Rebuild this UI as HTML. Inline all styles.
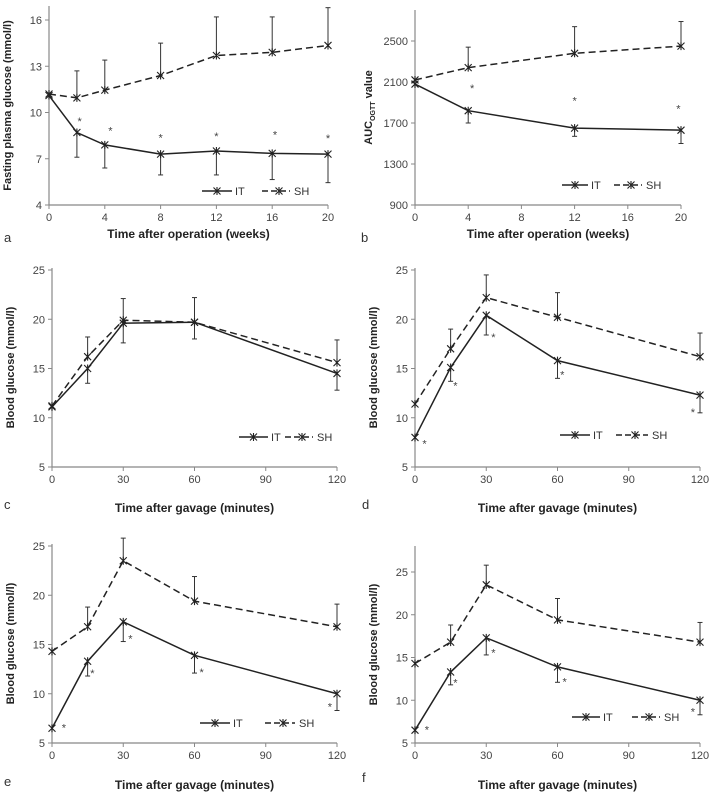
<!DOCTYPE html>
<html><head><meta charset="utf-8"><style>
body{margin:0;background:#fff}
svg{display:block;font-family:"Liberation Sans","DejaVu Sans",sans-serif}
</style></head><body>
<svg id="s" width="712" height="794" viewBox="0 0 712 794" xmlns="http://www.w3.org/2000/svg"></svg>
<script>
const NS="http://www.w3.org/2000/svg";const S=document.getElementById('s');
function el(t,a,txt){const e=document.createElementNS(NS,t);for(const k in a)e.setAttribute(k,a[k]);if(txt!==undefined)e.textContent=txt;S.appendChild(e);return e;}
function marker(x,y){const r=3.5;el('path',{d:`M${x-r} ${y-r}L${x+r} ${y+r}M${x-r} ${y+r}L${x+r} ${y-r}M${x} ${y-r-0.5}L${x} ${y+r+0.5}`,stroke:'#222','stroke-width':1.1,fill:'none'});}
function panel(p){
 const X=v=>p.x0+(v-p.xmin)/(p.xmax-p.xmin)*(p.x1-p.x0);
 const Y=v=>p.yb+(v-p.ymin)/(p.yt-p.ymin)*(p.ytp-p.yb);
 el('line',{x1:p.x0,y1:p.top,x2:p.x0,y2:p.yb,stroke:'#888','stroke-width':1.2});
 el('line',{x1:p.x0,y1:p.yb,x2:p.x1,y2:p.yb,stroke:'#888','stroke-width':1.2});
 p.yt_.forEach(v=>{const y=Y(v);el('line',{x1:p.x0-4,y1:y,x2:p.x0,y2:y,stroke:'#888'});el('text',{x:p.x0-7,y:y+4,'text-anchor':'end','font-size':11,fill:'#444'},v);});
 p.xt.forEach(v=>{const x=X(v);el('line',{x1:x,y1:p.yb,x2:x,y2:p.yb+4,stroke:'#888'});el('text',{x:x,y:p.yb+16,'text-anchor':'middle','font-size':11,fill:'#444'},v);});
 el('text',{x:(p.x0+p.x1)/2,y:p.ty,'text-anchor':'middle','font-size':12,'font-weight':'bold',fill:'#222'},p.title);
 el('text',{x:p.lx,y:p.ly,'font-size':13,fill:'#333'},p.letter);
 const yc=(p.top+p.yb)/2;const yl=el('text',{x:0,y:0,'text-anchor':'middle','font-size':11,'font-weight':'bold',fill:'#222',transform:`translate(${p.yx},${yc}) rotate(-90)`},p.ylab);
 if(p.sub){yl.textContent='';const a=document.createElementNS(NS,'tspan');a.textContent='AUC';yl.appendChild(a);const b=document.createElementNS(NS,'tspan');b.setAttribute('font-size',7);b.setAttribute('dy',3);b.textContent='OGTT';yl.appendChild(b);const c=document.createElementNS(NS,'tspan');c.setAttribute('dy',-3);c.textContent=' value';yl.appendChild(c);}
 p.ed.forEach(([xv,v,e])=>{if(e==null)return;const x=X(xv);el('line',{x1:x,y1:Y(v),x2:x,y2:Y(e),stroke:'#333','stroke-width':1});el('line',{x1:x-2.5,y1:Y(e),x2:x+2.5,y2:Y(e),stroke:'#333','stroke-width':1});});
 const line=(d,dash)=>{el('polyline',{points:d.map(q=>X(q[0])+','+Y(q[1])).join(' '),fill:'none',stroke:'#222','stroke-width':1.5,'stroke-dasharray':dash||''});d.forEach(q=>marker(X(q[0]),Y(q[1])));};
 line(p.it.map((v,i)=>[p.xs[i],v]));
 line(p.sh.map((v,i)=>[p.xs[i],v]),'7,4');
 p.st.forEach(([xv,v])=>el('text',{x:X(xv),y:Y(v)+5,'text-anchor':'middle','font-size':11,fill:'#444'},'*'));
 const L=p.leg;
 el('line',{x1:L[0],y1:L[4],x2:L[1],y2:L[4],stroke:'#222','stroke-width':1.5});marker((L[0]+L[1])/2,L[4]);
 el('text',{x:L[1]+3,y:L[4]+4,'font-size':11,fill:'#333'},'IT');
 el('line',{x1:L[2],y1:L[4],x2:L[3],y2:L[4],stroke:'#222','stroke-width':1.5,'stroke-dasharray':'6,3'});marker((L[2]+L[3])/2+3,L[4]);
 el('text',{x:L[3]+4,y:L[4]+4,'font-size':11,fill:'#333'},'SH');
}
const wk={xmin:0,xmax:20,xt:[0,4,8,12,16,20],title:'Time after operation (weeks)'};
panel(Object.assign({},wk,{letter:'a',x0:49,x1:328,yb:205,ytp:20,ymin:4,yt:16,top:6,yt_:[4,7,10,13,16],ty:238,lx:4,ly:242,yx:11,ylab:'Fasting plasma glucose (mmol/l)',
 xs:[0,2,4,8,12,16,20],it:[11.1,8.7,7.9,7.3,7.5,7.35,7.3],sh:[11.2,10.95,11.45,12.4,13.7,13.9,14.35],
 ed:[[2,8.7,7.1],[4,7.9,6.4],[8,7.3,5.95],[12,7.5,5.95],[16,7.35,5.65],[20,7.3,5.45],[2,10.95,12.7],[4,11.45,13.4],[8,12.4,14.5],[12,13.7,16.2],[16,13.9,16.2],[20,14.35,16.8]],
 st:[[2.2,9.5],[4.4,8.9],[8,8.45],[12,8.55],[16.2,8.65],[20,8.4]],leg:[202,232,262,290,191]}));
panel(Object.assign({},wk,{letter:'b',x0:415,x1:681,yb:205,ytp:41,ymin:900,yt:2500,top:10,yt_:[900,1300,1700,2100,2500],ty:238,lx:361,ly:242,yx:372,ylab:'AUC',sub:1,
 xs:[0,4,12,20],it:[2080,1820,1650,1630],sh:[2120,2240,2380,2450],
 ed:[[4,1820,1700],[12,1650,1570],[20,1630,1500],[4,2240,2440],[12,2380,2640],[20,2450,2690]],
 st:[[4.3,2050],[12,1930],[19.8,1850]],leg:[562,588,614,642,185]}));
const mn={xmin:0,xmax:120,xt:[0,30,60,90,120],title:'Time after gavage (minutes)',xs:[0,15,30,60,120]};
panel(Object.assign({},mn,{letter:'c',x0:52,x1:337,yb:467,ytp:270,ymin:5,yt:25,top:268,yt_:[5,10,15,20,25],ty:512,lx:4,ly:509,yx:14,ylab:'Blood glucose (mmol/l)',
 it:[11.1,15,19.6,19.7,14.5],sh:[11.2,16.2,19.9,19.7,15.6],
 ed:[[15,15,13.5],[30,19.6,17.6],[60,19.7,18],[120,14.5,12.8],[15,16.2,18.2],[30,19.9,22.1],[60,19.7,22.2],[120,15.6,17.9]],
 st:[],leg:[239,268,285,313,437]}));
panel(Object.assign({},mn,{letter:'d',x0:415,x1:700,yb:467,ytp:270,ymin:5,yt:25,top:268,yt_:[5,10,15,20,25],ty:512,lx:362,ly:509,yx:377,ylab:'Blood glucose (mmol/l)',
 it:[8,15.1,20.4,15.8,12.3],sh:[11.4,17,22.2,20.2,16.2],
 ed:[[15,15.1,13.7],[30,20.4,18.4],[60,15.8,14],[120,12.3,10.5],[15,17,19],[30,22.2,24.5],[60,20.2,22.7],[120,16.2,18.6]],
 st:[[4,7.5],[17,13.4],[33,18.3],[62,14.5],[117,10.7]],leg:[560,590,616,648,435]}));
const eD={it:[6.5,13.3,17.3,13.9,10],sh:[14.3,16.8,23.5,19.4,16.8],
 ed:[[15,13.3,11.8],[30,17.3,15.3],[60,13.9,12.1],[120,10,8.3],[15,16.8,18.8],[30,23.5,25.8],[60,19.4,21.9],[120,16.8,19.1]],
 st:[[5,6.7],[17,12.2],[33,15.7],[63,12.3],[117,8.8]]};
panel(Object.assign({},mn,eD,{letter:'e',x0:52,x1:337,yb:743,ytp:546,ymin:5,yt:25,top:544,yt_:[5,10,15,20,25],ty:789,lx:4,ly:786,yx:14,ylab:'Blood glucose (mmol/l)',leg:[200,230,265,295,723]}));
panel(Object.assign({},mn,eD,{letter:'f',x0:415,x1:700,yb:743,ytp:572,ymin:5,yt:25,top:546,yt_:[5,10,15,20,25],ty:789,lx:362,ly:782,yx:377,ylab:'Blood glucose (mmol/l)',leg:[572,600,632,660,717]}));
</script>
</body></html>
